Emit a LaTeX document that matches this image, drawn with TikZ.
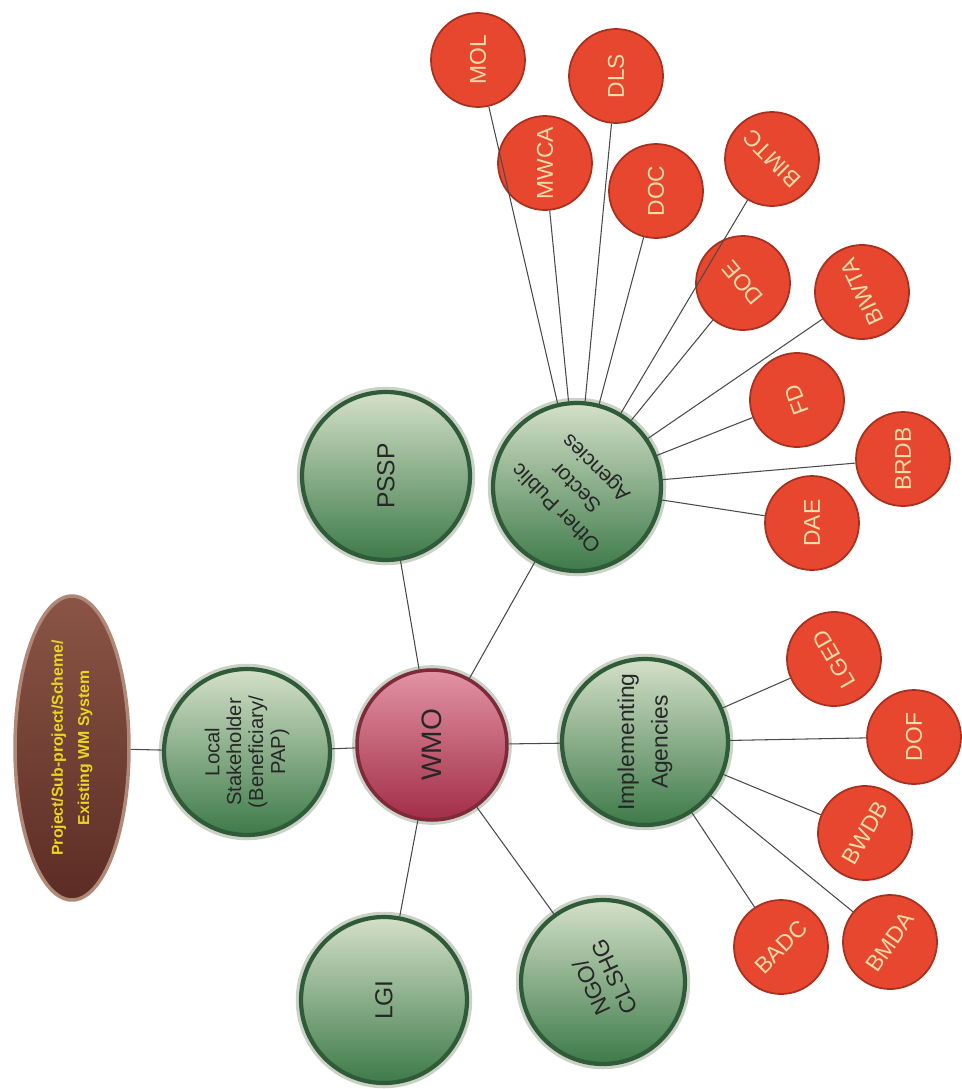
\documentclass[tikz,border=0pt]{standalone}
\usepackage{fontspec}
\setmainfont{Liberation Sans}
\usetikzlibrary{shapes.geometric}
\definecolor{greenrim}{HTML}{2F5B38}
\definecolor{greentop}{HTML}{D4E0C8}
\definecolor{greenbot}{HTML}{3D7A49}
\definecolor{halo}{HTML}{CAD2C6}
\definecolor{redfill}{HTML}{E8472F}
\definecolor{redrim}{HTML}{A9301F}
\definecolor{redlbl}{HTML}{F6DCA8}
\definecolor{wmotop}{HTML}{E293A4}
\definecolor{wmobot}{HTML}{A22E48}
\definecolor{wmorim}{HTML}{7E2A3A}
\definecolor{projtop}{HTML}{8A5546}
\definecolor{projbot}{HTML}{5C2C24}
\definecolor{projrim}{HTML}{B08878}
\definecolor{projlbl}{HTML}{E8D620}
\definecolor{wirecol}{HTML}{4A4A4A}
\tikzset{
  greenball/.style={circle, draw=greenrim, line width=2.4pt, top color=greentop,
    bottom color=greenbot, minimum size=3.32cm, inner sep=0pt,
    preaction={draw=halo, line width=6pt}},
  wmoball/.style={circle, draw=wmorim, line width=2pt, top color=wmotop,
    bottom color=wmobot, minimum size=3cm, inner sep=0pt,
    preaction={draw=halo, line width=5.5pt}},
  redball/.style={circle, draw=redrim, line width=1pt, fill=redfill,
    minimum size=1.88cm, inner sep=0pt, text=redlbl, font=\fontsize{13}{13}\selectfont},
  projshape/.style={ellipse, draw=projrim, line width=2pt, top color=projtop,
    bottom color=projbot, minimum width=2.28cm, minimum height=6.08cm, inner sep=0pt},
  greentext/.style={align=center, text=black!85},
  wire/.style={draw=wirecol, line width=0.6pt}
}
\begin{document}
\begin{tikzpicture}[x=0.02cm, y=-0.02cm]
    \useasboundingbox (0,0) rectangle (961,1089);
    % centre and first ring
    \node[projshape] (proj) at (72,748) {};
    \node[greenball] (local) at (247,752) {};
    \node[wmoball] (wmo) at (432,745) {};
    \node[greenball] (impl) at (645,742) {};
    \node[greenball, minimum size=3.36cm] (pssp) at (386,476) {};
    \node[greenball, minimum size=3.36cm] (opsa) at (577,487) {};
    \node[greenball] (lgi) at (384,1000) {};
    \node[greenball, minimum size=3.28cm] (ngo) at (603,982) {};
    % texts
    \node[rotate=90, align=center, text=projlbl, font=\bfseries\fontsize{9}{15}\selectfont] (proj-txt) at (proj) {Project/Sub-project/Scheme/\\Existing WM System};
    \node[greentext, rotate=90, font=\fontsize{11.5}{12.5}\selectfont] (local-txt) at (local) {Local\\Stakeholder\\(Beneficiary/\\PAP)};
    \node[greentext, rotate=90, font=\fontsize{16}{16}\selectfont] (wmo-txt) at (wmo) {WMO};
    \node[greentext, rotate=90, font=\fontsize{13}{19}\selectfont] (impl-txt) at (impl) {Implementing\\Agencies};
    \node[greentext, rotate=90, font=\fontsize{14}{14}\selectfont] (pssp-txt) at (pssp) {PSSP};
    \node[greentext, rotate=135, font=\fontsize{12}{16}\selectfont] (opsa-txt) at (opsa) {Other Public\\Sector\\Agencies};
    \node[greentext, rotate=90, font=\fontsize{14}{14}\selectfont] (lgi-txt) at (lgi) {LGI};
    \node[greentext, rotate=115, font=\fontsize{13}{14}\selectfont] (ngo-txt) at (ngo) {NGO/\\CLSHG};
    % agencies
    \foreach \name/\x/\y/\ang/\txt in {mol/478/60/90/MOL, mwca/545/163/90/MWCA,
        dls/616/76/90/DLS, doc/656/191/90/DOC, bimtc/772/159/135/BIMTC,
        doe/743/283/130/DOE, biwta/862/292/115/BIWTA, fd/797/400/110/FD,
        brdb/903/459/90/BRDB, dae/812/523/90/DAE, lged/834/659/120/LGED,
        dof/914/737/90/DOF, bwdb/865/833/60/BWDB, bmda/890/942/55/BMDA,
        badc/781/947/45/BADC} {
        \node[redball, rotate=\ang] (\name) at (\x,\y) {\txt};
    }
    % connectors
    \draw[wire] (proj) -- (local);
    \foreach \t in {local,impl,pssp,opsa,lgi,ngo} {
        \draw[wire] (wmo) -- (\t);
    }
    \foreach \t in {mol,mwca,dls,doc,bimtc,doe,biwta,fd,brdb,dae} {
        \draw[wire] (opsa) -- (\t);
    }
    \foreach \t in {lged,dof,bwdb,bmda,badc} {
        \draw[wire] (impl) -- (\t);
    }
\end{tikzpicture}
\end{document}
